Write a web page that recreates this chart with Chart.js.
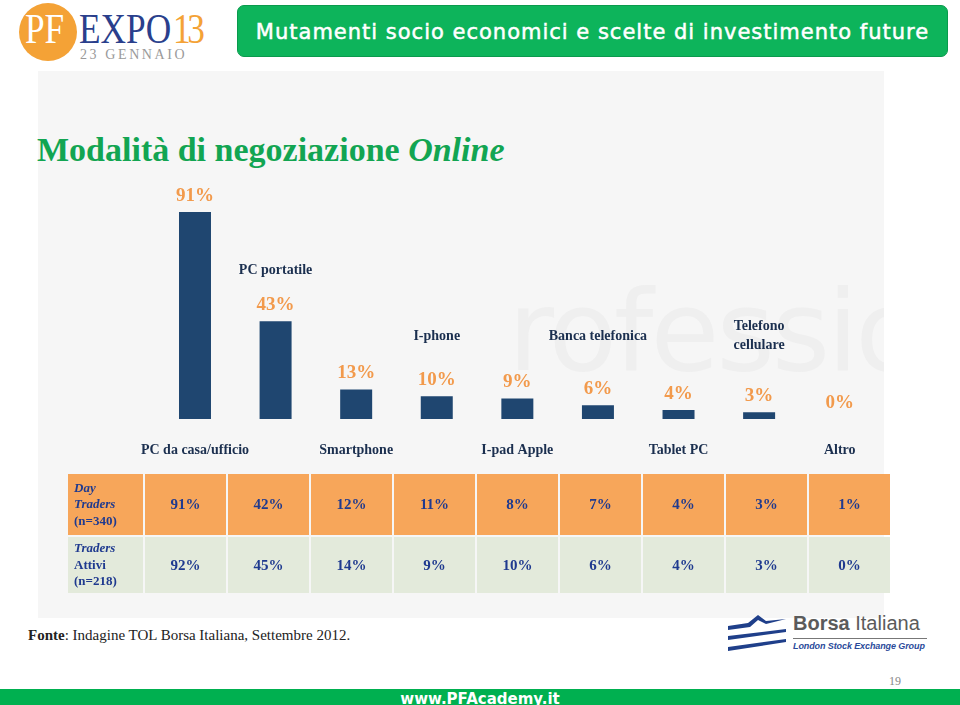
<!DOCTYPE html>
<html lang="it">
<head>
<meta charset="utf-8">
<title>Modalità di negoziazione Online</title>
<script src="https://cdn.jsdelivr.net/npm/chart.js@4.4.1/dist/chart.umd.min.js"></script>
<style>
  html, body { margin: 0; padding: 0; background: #fff; }
  #page { position: relative; width: 960px; height: 705px; overflow: hidden; font-family: "Liberation Serif", serif; }
  .abs { position: absolute; }
  #panel { left: 38px; top: 71px; width: 846px; height: 547px; background: #f6f6f6; overflow: hidden; }
  #watermark { left: 470px; top: 195px; font: 112px "DejaVu Sans", sans-serif; color: #efefef; letter-spacing: -3px; white-space: nowrap; }
  #header { left: 237px; top: 5px; width: 709px; height: 50px; background: #0db45b; border: 1px solid #0a9a4d; border-radius: 7px;
            color: #fff; font: 21px "DejaVu Sans", sans-serif; letter-spacing: 1px; line-height: 52px; text-align: center;
            -webkit-text-stroke: 0.5px #fff; }
  #title { left: 37px; top: 131px; font: bold 34px "Liberation Serif", serif; color: #12a552; white-space: nowrap; }
  #chartBox { left: 38px; top: 180px; }
  #tbl { left: 66px; top: 472px; border-collapse: separate; border-spacing: 2px; }
  #tbl td { width: 81px; text-align: center; font: bold 15px "Liberation Serif", serif; color: #1f3a8f; padding: 0; }
  #tbl td.head { width: 69px; text-align: left; padding-left: 6px; font-size: 13px; line-height: 16.5px; }
  #tbl tr.r1 td { background: #f7a65a; height: 61px; }
  #tbl tr.r2 td { background: #e3eadb; height: 56px; }
  #fonte { left: 28px; top: 627px; font: 15px "Liberation Serif", serif; color: #222; white-space: nowrap; }
  #footer { left: 0; top: 689px; width: 960px; height: 16px; background: #00b050; }
  #footer span { position: absolute; left: 0; width: 960px; top: 1px; text-align: center; color: #fff; font: bold 15px "DejaVu Sans", sans-serif; }
  #pnum { left: 889px; top: 674px; font: 12px "Liberation Serif", serif; color: #888; }
  .logo { font: 42px/42px "Liberation Serif", serif; transform-origin: 0 0; transform: scaleX(0.84); white-space: nowrap; }
</style>
</head>
<body>
<div id="page">
  <div id="panel" class="abs"><div id="watermark" class="abs">rofessione</div></div>

  <!-- logo PF EXPO 13 -->
  <div class="abs" style="left:19px;top:3px;width:58px;height:58px;border-radius:50%;background:#f4a236;"></div>
  <div class="abs logo" style="left:25px;top:8px;color:#fff;">PF</div>
  <div class="abs logo" style="left:79px;top:8px;color:#2a3f8c;">EXPO</div>
  <div class="abs logo" style="left:173px;top:8px;color:#f4a236;letter-spacing:-4px;">13</div>
  <div class="abs" style="left:80px;top:47px;font:14px 'Liberation Serif',serif;color:#9a9a9a;letter-spacing:2.6px;">23 GENNAIO</div>

  <div id="header" class="abs">Mutamenti socio economici e scelte di investimento future</div>
  <div id="title" class="abs">Modalità di negoziazione <i>Online</i></div>

  <div id="chartBox" class="abs"><canvas id="chart" width="846" height="315"></canvas></div>

  <table id="tbl" class="abs"><tbody id="tblBody"></tbody></table>

  <div id="fonte" class="abs"><b>Fonte</b>: Indagine TOL Borsa Italiana, Settembre 2012.</div>

  <!-- logo Borsa Italiana -->
  <svg class="abs" style="left:726px;top:612px;" width="62" height="42" viewBox="0 0 62 42">
    <path d="M2 14 L22 11 L32 3 L40 9 L60 7 L40 12 L32 8 L24 15 L2 18 Z" fill="#1f3f8a"/>
    <path d="M2 24 L60 17 L60 20 L2 28 Z" fill="#1f3f8a"/>
    <path d="M2 35 L60 27 L60 30 L2 39 Z" fill="#1f3f8a"/>
  </svg>
  <div class="abs" style="left:793px;top:612px;font:20px 'Liberation Sans',sans-serif;color:#5b5b5b;white-space:nowrap;"><b>Borsa</b> Italiana</div>
  <div class="abs" style="left:793px;top:638px;width:134px;height:1px;background:#777;"></div>
  <div class="abs" style="left:793px;top:641px;font:italic bold 9px 'Liberation Sans',sans-serif;color:#2a4a9a;white-space:nowrap;letter-spacing:-0.1px;">London Stock Exchange Group</div>

  <div id="pnum" class="abs">19</div>
  <div id="footer" class="abs"><span>www.PFAcademy.it</span></div>
</div>

<script>
// Categorie e valori (totale campione)
const categories = ['PC da casa/ufficio', 'PC portatile', 'Smartphone', 'I-phone', 'I-pad Apple',
                    'Banca telefonica', 'Tablet PC', ['Telefono', 'cellulare'], 'Altro'];
const totalValues = [91, 43, 13, 10, 9, 6, 4, 3, 0];

// Valori per tipologia di trader (tabella)
const dayTraders = [91, 42, 12, 11, 8, 7, 4, 3, 1];
const tradersAttivi = [92, 45, 14, 9, 10, 6, 4, 3, 0];
const rowHeaders = [['<i>Day</i>', '<i>Traders</i>', '(n=340)'], ['<i>Traders</i>', 'Attivi', '(n=218)']];

const navy = '#1f4670';
const orange = '#f29a4c';
const labelColor = '#1b2f4f';

// Costruisci tabella
const tbody = document.getElementById('tblBody');
[dayTraders, tradersAttivi].forEach((row, r) => {
    const tr = document.createElement('tr');
    tr.className = 'r' + (r + 1);
    const th = document.createElement('td');
    th.className = 'head';
    th.innerHTML = rowHeaders[r].join('<br>');
    tr.appendChild(th);
    row.forEach(v => {
        const td = document.createElement('td');
        td.textContent = v + '%';
        tr.appendChild(td);
    });
    tbody.appendChild(tr);
});

// Plugin per etichette valori e categorie sopra le barre
const barLabels = {
    id: 'barLabels',
    afterDatasetsDraw(chart) {
        const ctx = chart.ctx;
        const meta = chart.getDatasetMeta(0);
        ctx.save();
        ctx.textAlign = 'center';
        ctx.textBaseline = 'middle';
        meta.data.forEach((bar, i) => {
            const valueY = bar.y - 16;
            ctx.font = 'bold 19px "Liberation Serif", serif';
            ctx.fillStyle = orange;
            ctx.fillText(totalValues[i] + '%', bar.x, valueY);

            if (i % 2 === 1) {
                const lines = Array.isArray(categories[i]) ? categories[i] : [categories[i]];
                const centerY = Math.min(valueY - 35, 156);
                ctx.font = 'bold 14px "Liberation Serif", serif';
                ctx.fillStyle = labelColor;
                lines.forEach((line, k) => {
                    ctx.fillText(line, bar.x, centerY + (k - (lines.length - 1) / 2) * 19);
                });
            }
        });
        ctx.restore();
    }
};

new Chart(document.getElementById('chart').getContext('2d'), {
    type: 'bar',
    data: {
        labels: categories,
        datasets: [{
            data: totalValues,
            backgroundColor: navy,
            borderWidth: 0,
            barPercentage: 0.397,
            categoryPercentage: 1
        }]
    },
    options: {
        responsive: false,
        animation: false,
        layout: { padding: { left: 116.7, right: 4, top: 11.5, bottom: 13.2 } },
        scales: {
            x: {
                grid: { display: false, drawTicks: false },
                border: { display: false },
                ticks: {
                    autoSkip: false,
                    maxRotation: 0,
                    padding: 23,
                    color: labelColor,
                    font: { family: '"Liberation Serif", serif', size: 14, weight: 'bold' },
                    callback: function(value, index) {
                        return index % 2 === 0 ? categories[index] : '';
                    }
                }
            },
            y: { display: false, min: 0, max: 100 }
        },
        plugins: {
            legend: { display: false },
            tooltip: { enabled: false }
        }
    },
    plugins: [barLabels]
});
</script>
</body>
</html>
